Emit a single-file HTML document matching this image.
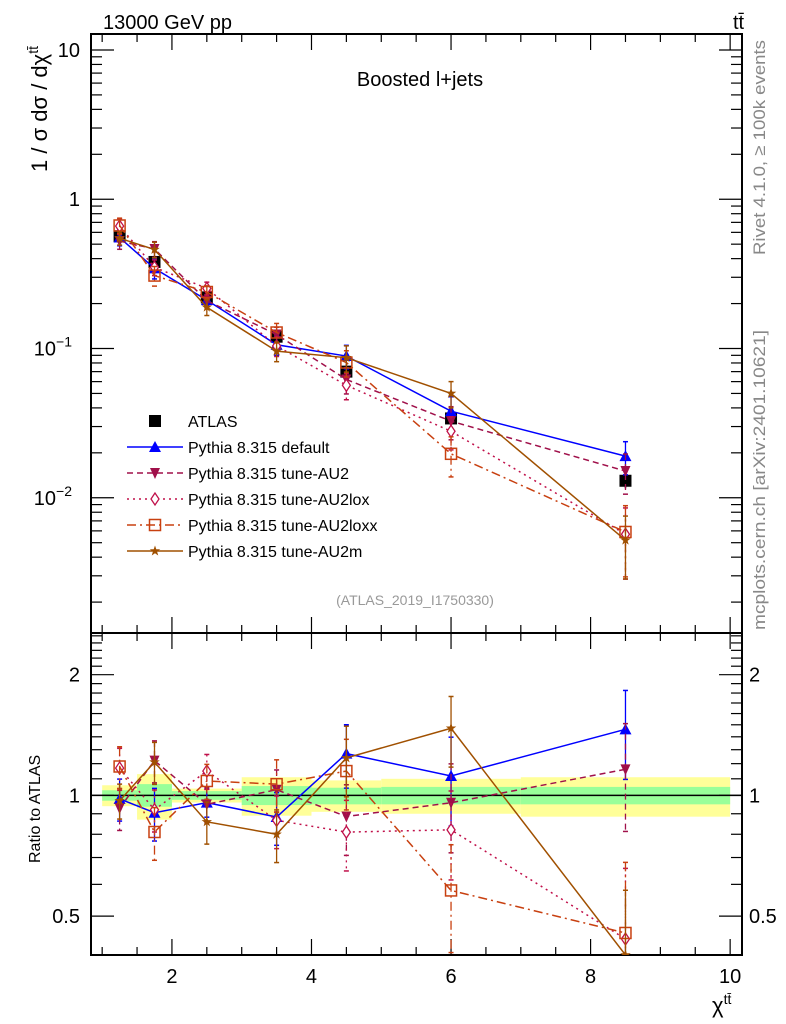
<!DOCTYPE html>
<html><head><meta charset="utf-8"><style>
body{margin:0;background:#fff;}
svg{display:block;font-family:"Liberation Sans",sans-serif;}
</style></head><body>
<svg id="c" width="786" height="1024" xmlns="http://www.w3.org/2000/svg">
<text x="103" y="29" font-size="20">13000 GeV pp</text>
<text x="733" y="29" font-size="20">tt̄</text>
<text x="420" y="86" font-size="20" text-anchor="middle">Boosted l+jets</text>
<text x="415" y="605" font-size="14" fill="#999" text-anchor="middle">(ATLAS_2019_I1750330)</text>
<text transform="translate(765,255) rotate(-90)" font-size="17" fill="#888" textLength="215" lengthAdjust="spacingAndGlyphs">Rivet 4.1.0, ≥ 100k events</text>
<text transform="translate(765,630) rotate(-90)" font-size="17" fill="#888" textLength="300" lengthAdjust="spacingAndGlyphs">mcplots.cern.ch [arXiv:2401.10621]</text>
<text transform="translate(47,172) rotate(-90)" font-size="22">1 / σ dσ / dχ<tspan dy="-9" font-size="14">tt̄</tspan></text>
<text transform="translate(40,863) rotate(-90)" font-size="16">Ratio to ATLAS</text>
<text x="712" y="1013" font-size="22">χ<tspan dy="-9" font-size="14">tt̄</tspan></text>
<g id="g"></g>
</svg>
<script>
const xs=[1.25,1.75,2.5,3.5,4.5,6,8.5];
const atlas=[0.565,0.38,0.22,0.12,0.07,0.034,0.013];
const atlasErr=[0.05,0.1,0.04,0.08,0.07,0.08,0.11];
const bandEdges=[1,1.5,2,3,4,5,7,10];
const yellowUp=[1.06,1.13,1.04,1.11,1.09,1.10,1.11];
const yellowDn=[0.94,0.87,0.96,0.89,0.91,0.90,0.885];
const greenUp=[1.03,1.067,1.025,1.055,1.045,1.05,1.05];
const greenDn=[0.97,0.937,0.975,0.946,0.95,0.95,0.95];
const sDefault=[0.554,0.344,0.211,0.106,0.089,0.038,0.019];
const sAU2=[0.525,0.464,0.209,0.124,0.062,0.0326,0.0151];
const sLox=[0.661,0.350,0.253,0.104,0.0567,0.0279,0.0057];
const sLoxx=[0.667,0.308,0.239,0.128,0.0805,0.0197,0.0059];
const sM=[0.548,0.460,0.189,0.096,0.0868,0.050,0.0052];
const eDefault=[0.12,0.15,0.08,0.15,0.18,0.25,0.25];
const eAU2=[0.12,0.12,0.1,0.12,0.2,0.25,0.3];
const eLox=[0.12,0.12,0.1,0.15,0.2,0.25,0.5];
const eLoxx=[0.12,0.15,0.1,0.15,0.2,0.3,0.5];
const eM=[0.1,0.12,0.12,0.15,0.2,0.2,0.45];
const names=["Pythia 8.315 default","Pythia 8.315 tune-AU2","Pythia 8.315 tune-AU2lox","Pythia 8.315 tune-AU2loxx","Pythia 8.315 tune-AU2m"];

const L=91,R=742,T=34,MB=633,RB=955;
const X0=0.84,X1=10.17;
const X=x=>L+(x-X0)/(X1-X0)*(R-L);
const LT=1.107,LB=-2.906;
const Y=v=>T+(LT-Math.log10(v))/(LT-LB)*(MB-T);
const RT=0.405,RBt=-0.398;
const YR=v=>MB+(RT-Math.log10(v))/(RT-RBt)*(RB-MB);
const g=document.getElementById('g');
const NS="http://www.w3.org/2000/svg";
function mk(tag,at,parent){const e=document.createElementNS(NS,tag);for(const k in at)e.setAttribute(k,at[k]);(parent||g).appendChild(e);return e;}

const defs=mk('defs',{});
const c1=mk('clipPath',{id:'cm'},defs);mk('rect',{x:L,y:T,width:R-L,height:MB-T},c1);
const c2=mk('clipPath',{id:'cr'},defs);mk('rect',{x:L,y:MB,width:R-L,height:RB-MB},c2);

const bg=mk('g',{'clip-path':'url(#cr)'});


for(let i=0;i<yellowUp.length;i++){
  const a=X(bandEdges[i]),b=X(bandEdges[i+1]);
  const r1=mk('rect',{x:a,y:YR(yellowUp[i]),width:b-a,height:YR(yellowDn[i])-YR(yellowUp[i]),fill:'#ffff99'},bg);
  
  
  const r2=mk('rect',{x:a,y:YR(greenUp[i]),width:b-a,height:YR(greenDn[i])-YR(greenUp[i]),fill:'#99ff99'},bg);
  
  
}
mk('line',{x1:L,x2:R,y1:YR(1),y2:YR(1),stroke:'#000','stroke-width':1.5});

const f1=mk('rect',{x:L,y:T,width:R-L,height:MB-T,fill:'none',stroke:'#000','stroke-width':2});


const f2=mk('rect',{x:L,y:MB,width:R-L,height:RB-MB,fill:'none',stroke:'#000','stroke-width':2});



for(let v=1;v<=10.01;v+=0.5){
  const maj=Math.abs(v-Math.round(v/2)*2)<0.01;
  const len=maj?16:8,x=X(v);
  [[T,1],[MB,-1],[MB,1],[RB,-1]].forEach(([y,d])=>mk('line',{x1:x,x2:x,y1:y,y2:y+d*len,stroke:'#000','stroke-width':1.2}));
  if(maj){const t=mk('text',{x:x,y:RB+28,'font-size':20,'text-anchor':'middle'});t.textContent=v;
    
    }
}
const mainLabels=[[10,"10",""],[1,"1",""],[0.1,"10","−1"],[0.01,"10","−2"]];
for(let e=-3;e<=1;e++)for(let m=1;m<=9;m++){
  const v=m*Math.pow(10,e),lv=Math.log10(v);
  if(lv>LT||lv<LB)continue;
  const y=Y(v),len=m==1?23:11;
  mk('line',{x1:L,x2:L+len,y1:y,y2:y,stroke:'#000','stroke-width':1.2});
  mk('line',{x1:R,x2:R-len,y1:y,y2:y,stroke:'#000','stroke-width':1.2});
}
mainLabels.forEach(([v,b,s])=>{
  const t=mk('text',{x:80,y:Y(v)+7,'font-size':20,'text-anchor':'end'});
  
  
  if(s){t.textContent=b;const ts=mk('tspan',{dy:-9,'font-size':14},t);ts.textContent=s;t.setAttribute('x',72);}
  else t.textContent=b;
});
const ratioTicks=[0.4,0.5,0.6,0.7,0.8,0.9,1,1.1,1.2,1.3,1.4,1.5,1.6,1.7,1.8,1.9,2,2.1,2.2,2.3,2.4,2.5];
const ratioLabels=[0.5,1,2];
ratioTicks.forEach(v=>{
  const y=YR(v),maj=ratioLabels.includes(v),len=maj?23:11;
  mk('line',{x1:L,x2:L+len,y1:y,y2:y,stroke:'#000','stroke-width':1.2});
  mk('line',{x1:R,x2:R-len,y1:y,y2:y,stroke:'#000','stroke-width':1.2});
});
ratioLabels.forEach(v=>{
  const t=mk('text',{x:80,y:YR(v)+7,'font-size':20,'text-anchor':'end'});t.textContent=v;
  
  
  const t2=mk('text',{x:749,y:YR(v)+7,'font-size':20});t2.textContent=v;
  
  
});

function marker(type,x,y,col,parent){
  const s=5;
  if(type=='sq')return mk('rect',{x:x-6,y:y-6,width:12,height:12,fill:'#000'},parent);
  if(type=='tri')return mk('polygon',{points:`${x},${y-s-1} ${x-s-1},${y+s} ${x+s+1},${y+s}`,fill:col},parent);
  if(type=='dtri')return mk('polygon',{points:`${x},${y+s+1} ${x-s},${y-s} ${x+s},${y-s}`,fill:col},parent);
  if(type=='dia')return mk('polygon',{points:`${x},${y-s-1} ${x-4},${y} ${x},${y+s+1} ${x+4},${y}`,fill:'#fff',stroke:col,'stroke-width':1.3},parent);
  if(type=='osq')return mk('rect',{x:x-5.5,y:y-5.5,width:11,height:11,fill:'none',stroke:col,'stroke-width':1.5},parent);
  if(type=='star'){let p=[];for(let i=0;i<10;i++){const r=i%2?2.2:5.5,a=-Math.PI/2+i*Math.PI/5;p.push((x+r*Math.cos(a))+','+(y+r*Math.sin(a)));}return mk('polygon',{points:p.join(' '),fill:col},parent);}
}
const series=[
 {v:sDefault,e:eDefault,col:'#0000ff',m:'tri',dash:'',n:'default'},
 {v:sAU2,e:eAU2,col:'#a0104a',m:'dtri',dash:'6,4',n:'au2'},
 {v:sLox,e:eLox,col:'#c0104a',m:'dia',dash:'2,4',n:'au2lox'},
 {v:sLoxx,e:eLoxx,col:'#c84010',m:'osq',dash:'9,4,2,4',n:'au2loxx'},
 {v:sM,e:eM,col:'#a05000',m:'star',dash:'',n:'au2m'}];
function drawSeries(s,yf,clip,vals,isRatio){
  const grp=mk('g',{'clip-path':clip});
  
  
  const pts=xs.map((x,i)=>X(x)+','+yf(vals[i])).join(' ');
  mk('polyline',{points:pts,fill:'none',stroke:s.col,'stroke-width':1.5,'stroke-dasharray':s.dash},grp);
  xs.forEach((x,i)=>{
    const px=X(x),v=vals[i],e=s.e[i];
    const y1=yf(v*(1+e)),y2=yf(v*Math.max(0.05,1-e));
    mk('line',{x1:px,x2:px,y1:y1,y2:y2,stroke:s.col,'stroke-width':1.3,'stroke-dasharray':s.dash},grp);
    mk('line',{x1:px-2.5,x2:px+2.5,y1:y1,y2:y1,stroke:s.col,'stroke-width':1.5},grp);
    mk('line',{x1:px-2.5,x2:px+2.5,y1:y2,y2:y2,stroke:s.col,'stroke-width':1.5},grp);
    marker(s.m,px,yf(v),s.col,grp);
  });
}
const ag=mk('g',{'clip-path':'url(#cm)'});


series.forEach(s=>drawSeries(s,Y,'url(#cm)',s.v,false));
xs.forEach((x,i)=>{
  const px=X(x);
  mk('line',{x1:px,x2:px,y1:Y(atlas[i]*(1+atlasErr[i])),y2:Y(atlas[i]*(1-atlasErr[i])),stroke:'#000','stroke-width':1.5},ag);
  marker('sq',px,Y(atlas[i]),'#000',ag);
});
series.forEach(s=>drawSeries(s,YR,'url(#cr)',s.v.map((v,i)=>v/atlas[i]),true));

const lg=mk('g',{});


const ly0=421,dy=26;
marker('sq',155,ly0,'#000',lg);
let t=mk('text',{x:188,y:ly0+6,'font-size':16},lg);t.textContent='ATLAS';


series.forEach((s,i)=>{
  const y=ly0+dy*(i+1);
  mk('line',{x1:127,x2:183,y1:y,y2:y,stroke:s.col,'stroke-width':1.5,'stroke-dasharray':s.dash},lg);
  marker(s.m,155,y,s.col,lg);
  const tt=mk('text',{x:188,y:y+6,'font-size':16},lg);tt.textContent=names[i];
  
  
});
</script>
</body></html>
